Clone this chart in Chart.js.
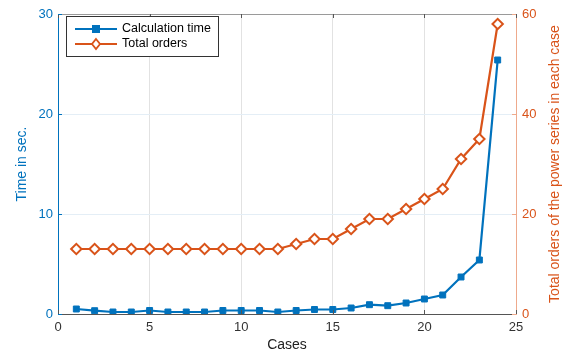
<!DOCTYPE html>
<html>
<head>
<meta charset="utf-8">
<script src="https://cdn.jsdelivr.net/npm/chart.js@4/dist/chart.umd.min.js"></script>
<style>
  html, body { margin: 0; padding: 0; background: #fff; }
  #wrap { width: 568px; height: 358px; position: relative; }
</style>
</head>
<body>
<div id="wrap"><canvas id="c"></canvas></div>
<script>
const cases = [1, 2, 3, 4, 5, 6, 7, 8, 9, 10, 11, 12, 13, 14, 15, 16, 17, 18, 19, 20, 21, 22, 23, 24];
const calcTime = [0.5, 0.33, 0.2, 0.2, 0.35, 0.2, 0.2, 0.2, 0.35, 0.35, 0.35, 0.2, 0.35, 0.45, 0.45, 0.6, 0.93, 0.83, 1.1, 1.5, 1.9, 3.7, 5.4, 25.4];
const totalOrders = [13, 13, 13, 13, 13, 13, 13, 13, 13, 13, 13, 13, 14, 15, 15, 17, 19, 19, 21, 23, 25, 31, 35, 58];
const xTicks = [0, 5, 10, 15, 20, 25];
const leftTicks = [0, 10, 20, 30];
const rightTicks = [0, 20, 40, 60];
const rightTitle = 'Total orders of the power series in each case';

const BLUE = '#0072BD';
const ORANGE = '#D95319';
const FONT = '"Liberation Sans", Arial, sans-serif';

const frame = {
  id: 'frame',
  afterDraw(chart) {
    const { ctx: c, chartArea: a, scales } = chart;
    c.save();
    // top box line
    c.strokeStyle = '#9a9a9a';
    c.lineWidth = 1;
    c.beginPath();
    c.moveTo(a.left, a.top + 0.5);
    c.lineTo(a.right, a.top + 0.5);
    c.stroke();

    // small inward tick marks, matlab style
    c.strokeStyle = '#555';
    xTicks.forEach(v => {
      const x = Math.round(scales.x.getPixelForValue(v)) + 0.5;
      c.beginPath();
      c.moveTo(x, a.bottom); c.lineTo(x, a.bottom - 4);
      c.moveTo(x, a.top); c.lineTo(x, a.top + 4);
      c.stroke();
    });
    c.strokeStyle = BLUE;
    leftTicks.forEach(v => {
      const y = Math.round(scales.y.getPixelForValue(v)) + 0.5;
      c.beginPath(); c.moveTo(a.left, y); c.lineTo(a.left + 4, y); c.stroke();
    });
    c.strokeStyle = '#eeaa8c';
    rightTicks.forEach(v => {
      const y = Math.round(scales.y2.getPixelForValue(v)) + 0.5;
      c.beginPath(); c.moveTo(a.right, y); c.lineTo(a.right - 4, y); c.stroke();
    });

    // right axis title, reading bottom to top
    c.save();
    c.translate(555, (a.top + a.bottom) / 2);
    c.rotate(-Math.PI / 2);
    c.fillStyle = ORANGE;
    c.font = '14px ' + FONT;
    c.textAlign = 'center';
    c.textBaseline = 'middle';
    c.fillText(rightTitle, 0, 0);
    c.restore();

    // legend
    const bx = 66, by = 16, bw = 152, bh = 40;
    c.fillStyle = '#fff';
    c.fillRect(bx, by, bw, bh);
    c.strokeStyle = '#333';
    c.strokeRect(bx + 0.5, by + 0.5, bw, bh);
    const rows = [29, 44];
    chart.data.datasets.forEach((ds, i) => {
      const y = rows[i];
      c.strokeStyle = ds.borderColor;
      c.lineWidth = 2;
      c.beginPath();
      c.moveTo(75, y);
      c.lineTo(117, y);
      c.stroke();
      c.lineWidth = 1.8;
      if (ds.pointStyle === 'rect') {
        c.fillStyle = ds.borderColor;
        c.fillRect(96 - 4, y - 4, 8, 8);
      } else {
        c.fillStyle = '#fff';
        c.beginPath();
        c.moveTo(96, y - 5);
        c.lineTo(100, y);
        c.lineTo(96, y + 5);
        c.lineTo(92, y);
        c.closePath();
        c.fill();
        c.stroke();
      }
      c.fillStyle = '#000';
      c.font = '12.5px ' + FONT;
      c.textBaseline = 'middle';
      c.textAlign = 'left';
      c.fillText(ds.label, 122, y);
    });
    c.restore();
  }
};

new Chart(document.getElementById('c'), {
  type: 'line',
  data: {
    datasets: [
      {
        label: 'Calculation time',
        data: cases.map((x, i) => ({ x, y: calcTime[i] })),
        yAxisID: 'y',
        borderColor: BLUE,
        backgroundColor: BLUE,
        borderWidth: 2.2,
        pointStyle: 'rect',
        pointRadius: 4.2,
        pointBorderWidth: 1,
        pointBackgroundColor: BLUE,
        tension: 0,
        order: 2
      },
      {
        label: 'Total orders',
        data: cases.map((x, i) => ({ x, y: totalOrders[i] })),
        yAxisID: 'y2',
        borderColor: ORANGE,
        backgroundColor: '#fff',
        borderWidth: 2.2,
        pointStyle: 'rectRot',
        pointRadius: 5.2,
        pointBorderWidth: 2,
        pointBackgroundColor: '#fff',
        tension: 0,
        order: 1
      }
    ]
  },
  plugins: [frame],
  options: {
    responsive: true,
    maintainAspectRatio: false,
    animation: false,
    layout: { padding: { top: 14, left: 0, right: 0, bottom: 0 } },
    plugins: { legend: { display: false }, tooltip: { enabled: false } },
    scales: {
      x: {
        type: 'linear',
        min: 0,
        max: 25,
        afterBuildTicks(s) { s.ticks = xTicks.map(v => ({ value: v })); },
        afterFit(s) { s.height = 44; },
        border: { color: '#555', width: 1 },
        grid: { color: '#e2e2e2', drawTicks: false },
        ticks: { color: '#333', padding: 6, font: { family: FONT, size: 13 } },
        title: { display: true, text: 'Cases', color: '#222', padding: { top: 5 }, font: { family: FONT, size: 14 } }
      },
      y: {
        position: 'left',
        min: 0,
        max: 30,
        afterBuildTicks(s) { s.ticks = leftTicks.map(v => ({ value: v })); },
        afterFit(s) { s.width = 58; },
        border: { color: BLUE, width: 1 },
        grid: { color: '#e4eef6', drawTicks: false },
        ticks: { color: BLUE, padding: 5, font: { family: FONT, size: 13 } },
        title: { display: true, text: 'Time in sec.', color: BLUE, padding: { top: 14, bottom: 0 }, font: { family: FONT, size: 14 } }
      },
      y2: {
        position: 'right',
        min: 0,
        max: 60,
        afterBuildTicks(s) { s.ticks = rightTicks.map(v => ({ value: v })); },
        afterFit(s) { s.width = 52; },
        border: { color: '#eeaa8c', width: 1 },
        grid: { drawOnChartArea: false, drawTicks: false },
        ticks: { color: ORANGE, padding: 6, font: { family: FONT, size: 13 } }
      }
    }
  }
});
</script>
</body>
</html>
